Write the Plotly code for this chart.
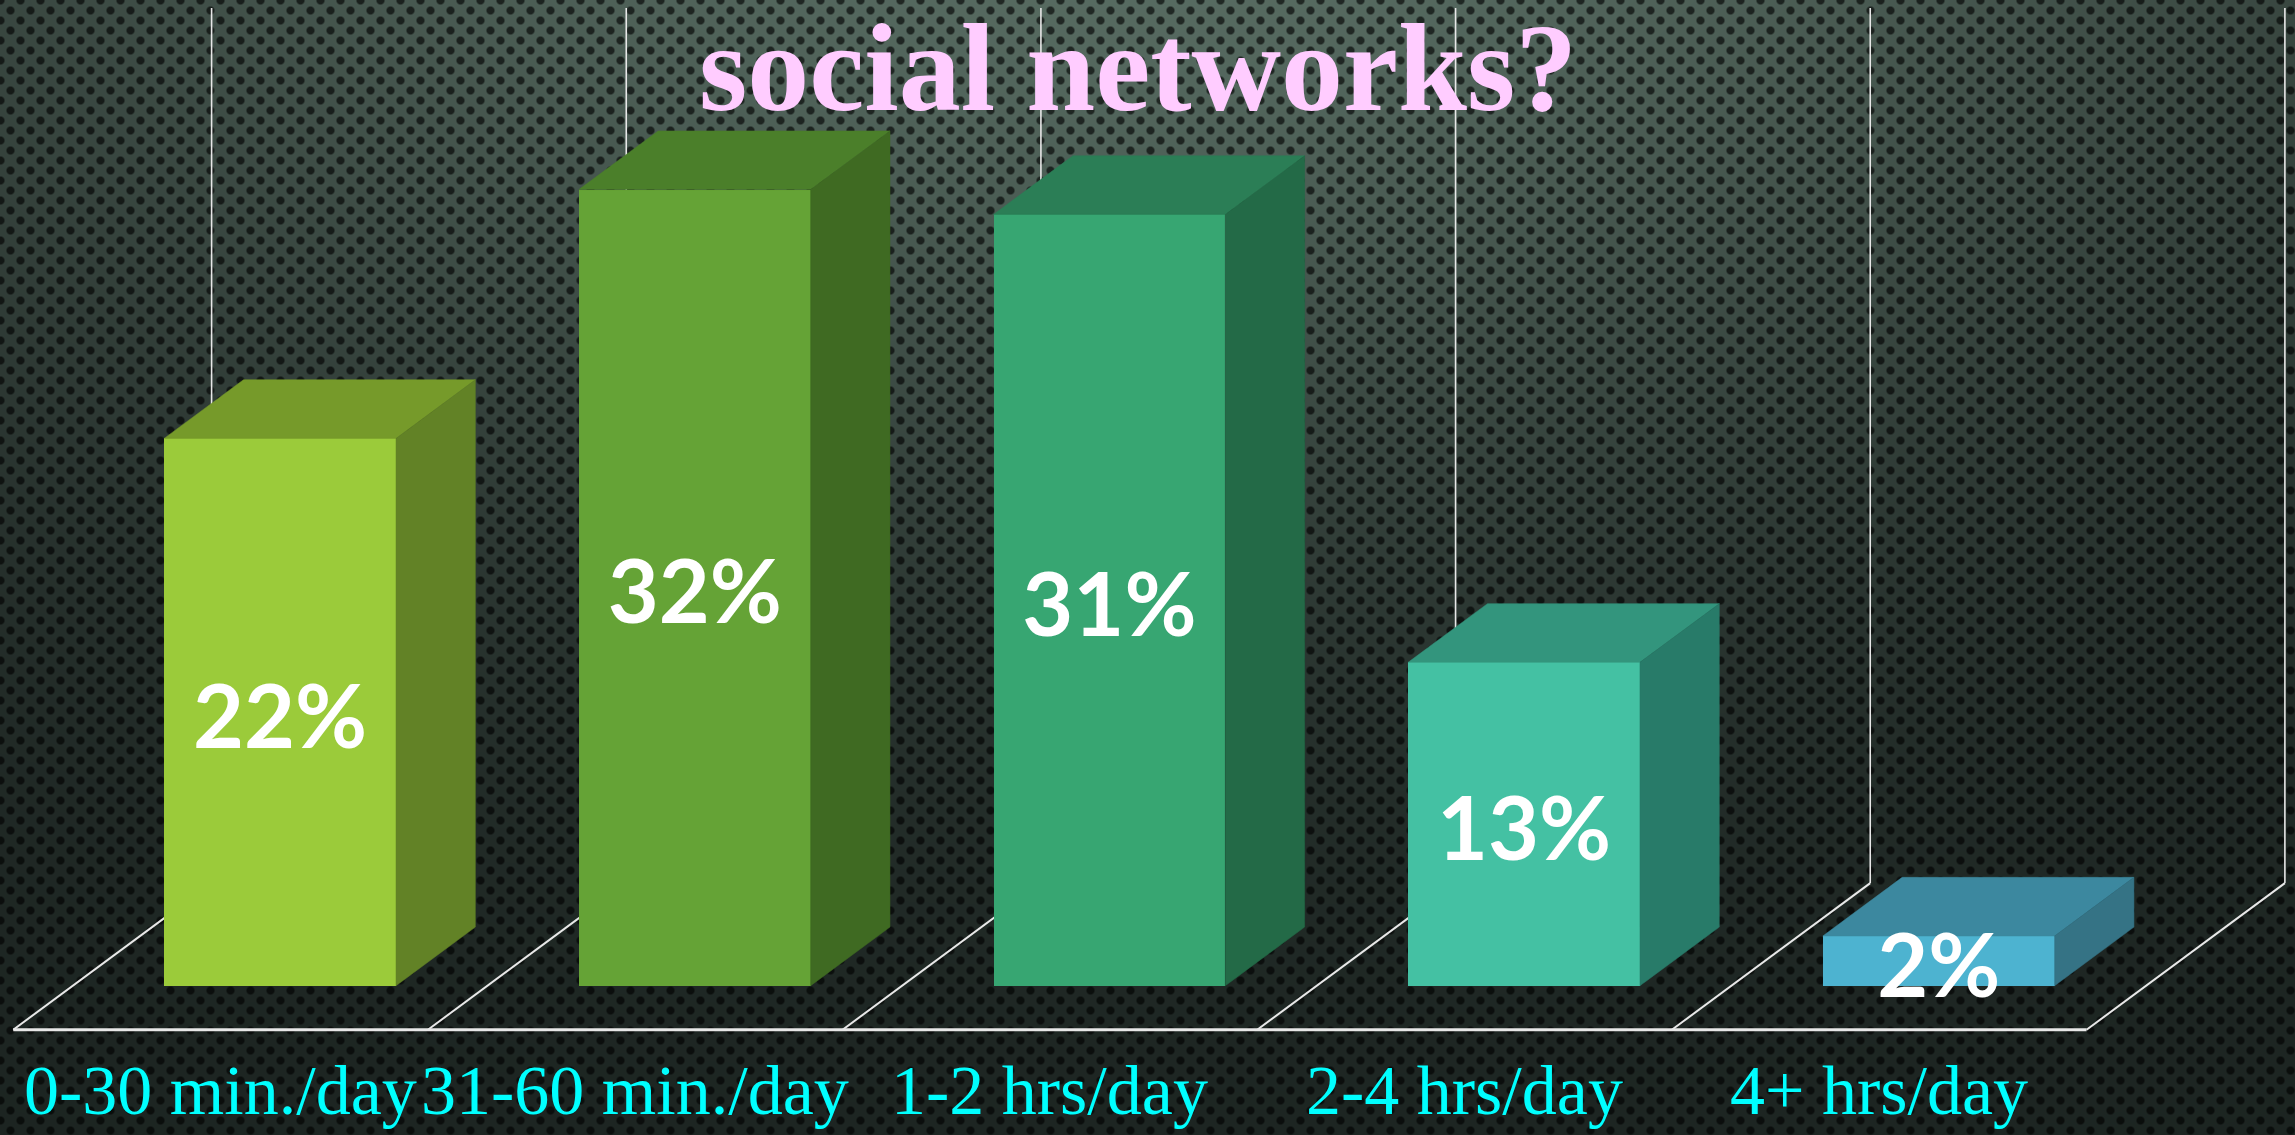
import numpy as np
import zlib, struct, base64
import plotly.graph_objects as go

# ---------------- data ----------------
categories = ["0-30 min./day", "31-60 min./day", "1-2 hrs/day", "2-4 hrs/day", "4+ hrs/day"]
values = [22, 32, 31, 13, 2]
value_labels = ["22%", "32%", "31%", "13%", "2%"]
title_text = "social networks?"

front_colors = ["#9BCB3A", "#65A336", "#37A672", "#44C1A3", "#4DB3D0"]
top_colors = ["#769A2A", "#4B7F2A", "#2B7E56", "#33957D", "#3C889F"]
side_colors = ["#628226", "#3F6A22", "#236A47", "#287B69", "#357385"]

# ---------------- geometry (oblique 3-D look) ----------------
W, H = 2295, 1135
BAR_W = 0.559          # bar width in category units
DX, DY = 0.4783, 5.894 # floor depth vector (x in category units, y in % units)
FRONT = 0.3            # bar front sits 30% into the floor depth
BDEPTH = 0.4           # bar depth as fraction of floor depth
X_RANGE = [-0.6755, 4.8592]
Y_RANGE = [-5.999, 39.62]
WALL_TOP = 39.3
LABEL_SHIFT = -0.55    # value labels sit slightly below bar mid-height
CAT_Y = -4.2

# ---------------- background texture (perforated metal) ----------------
yy, xx = np.mgrid[0:H, 0:W].astype(np.float32)
r2 = ((xx - 1150) / 1500) ** 2 + ((yy + 100) / 700) ** 2
f = np.exp(-1.2 * r2)[..., None]
dark = np.array([28, 36, 33], np.float32)
light = np.array([88, 108, 98], np.float32)
base = dark + (light - dark) * f
r0 = np.floor(yy / 10)
best = np.full_like(xx, 100.0)
for r in (r0, r0 + 1):
    cy = r * 10
    off = (r % 2) * 10
    cx = np.round((xx - off) / 20) * 20 + off
    best = np.minimum(best, np.hypot(xx - cx, yy - cy))
dot = np.clip((4.8 - best) / 1.6, 0, 1)[..., None]
img = base * (1 - 0.62 * dot)
img8 = np.clip(img, 0, 255).astype(np.uint8)
flat = img8.reshape(H, W * 3).astype(np.int16)
sub = flat.copy()
sub[:, 3:] = (flat[:, 3:] - flat[:, :-3]) % 256
raw = np.concatenate([np.ones((H, 1), np.uint8), sub.astype(np.uint8)], axis=1).tobytes()


def chunk(t, d):
    return struct.pack(">I", len(d)) + t + d + struct.pack(">I", zlib.crc32(t + d) & 0xFFFFFFFF)


png = (b"\x89PNG\r\n\x1a\n" + chunk(b"IHDR", struct.pack(">IIBBBBB", W, H, 8, 2, 0, 0, 0))
       + chunk(b"IDAT", zlib.compress(raw, 9)) + chunk(b"IEND", b""))
bg_src = "data:image/png;base64," + base64.b64encode(png).decode()

fig = go.Figure()

# ---------------- floor and wall lines (behind the bars) ----------------
n = len(categories)
shapes = []
x_front_left = -0.5 - FRONT * DX
shapes.append(dict(type="line", xref="x", yref="y", layer="below",
                   x0=x_front_left, x1=x_front_left + n, y0=-FRONT * DY, y1=-FRONT * DY,
                   line=dict(color="#E8E8E8", width=3)))
for k in range(n + 1):
    xf = k - 0.5 - FRONT * DX
    xb = k - 0.5 + (1 - FRONT) * DX
    yf = -FRONT * DY
    yb = (1 - FRONT) * DY
    shapes.append(dict(type="line", xref="x", yref="y", layer="below",
                       x0=xf, x1=xb, y0=yf, y1=yb, line=dict(color="#E8E8E8", width=2)))
    shapes.append(dict(type="line", xref="x", yref="y", layer="below",
                       x0=xb, x1=xb, y0=yb, y1=WALL_TOP, line=dict(color="#E8E8E8", width=1.6)))

# ---------------- bars: front faces ----------------
xs = list(range(n))
fig.add_trace(go.Bar(x=xs, y=values, base=0, width=BAR_W,
                     marker=dict(color=front_colors, line=dict(width=0)),
                     hoverinfo="skip", showlegend=False))

# top and side faces
bdx, bdy = BDEPTH * DX, BDEPTH * DY
for i, v in enumerate(values):
    xl, xr = i - BAR_W / 2, i + BAR_W / 2
    fig.add_trace(go.Scatter(
        x=[xl, xr, xr + bdx, xl + bdx, xl], y=[v, v, v + bdy, v + bdy, v],
        fill="toself", fillcolor=top_colors[i], mode="lines",
        line=dict(width=0.5, color=top_colors[i]), hoverinfo="skip", showlegend=False))
    fig.add_trace(go.Scatter(
        x=[xr, xr + bdx, xr + bdx, xr, xr], y=[0, bdy, v + bdy, v, 0],
        fill="toself", fillcolor=side_colors[i], mode="lines",
        line=dict(width=0.5, color=side_colors[i]), hoverinfo="skip", showlegend=False))

# value labels
fig.add_trace(go.Scatter(
    x=xs, y=[v / 2 + LABEL_SHIFT for v in values], mode="text", text=value_labels,
    textposition="middle center",
    textfont=dict(family="Lato", size=88, color="white", weight="bold"),
    hoverinfo="skip", showlegend=False))

# ---------------- category labels ----------------
annotations = []
for i, c in enumerate(categories):
    annotations.append(dict(x=i - FRONT * DX, xref="x", y=CAT_Y, yref="y",
                            text=c, showarrow=False, xanchor="center", yanchor="middle",
                            font=dict(family="Liberation Serif", size=70, color="#00FFFF")))
annotations.append(dict(x=0.4959, xref="paper", y=1 - 138.8 / H, yref="paper",
                        text=title_text, showarrow=False, xanchor="center", yanchor="bottom",
                        font=dict(family="Liberation Serif", size=124, color="#FFCCFF", weight="bold")))

fig.update_layout(
    width=W, height=H, margin=dict(l=0, r=0, t=0, b=0),
    paper_bgcolor="#1c2421", plot_bgcolor="rgba(0,0,0,0)",
    xaxis=dict(range=X_RANGE, visible=False, fixedrange=True),
    yaxis=dict(range=Y_RANGE, visible=False, fixedrange=True),
    shapes=shapes, annotations=annotations, bargap=0,
    images=[dict(source=bg_src, xref="paper", yref="paper", x=0, y=1, sizex=1, sizey=1,
                 xanchor="left", yanchor="top", sizing="stretch", layer="below")],
)

fig.write_html("out.html", config={"displayModeBar": False},
               post_script="document.body.style.margin='0';document.body.style.overflow='hidden';")
